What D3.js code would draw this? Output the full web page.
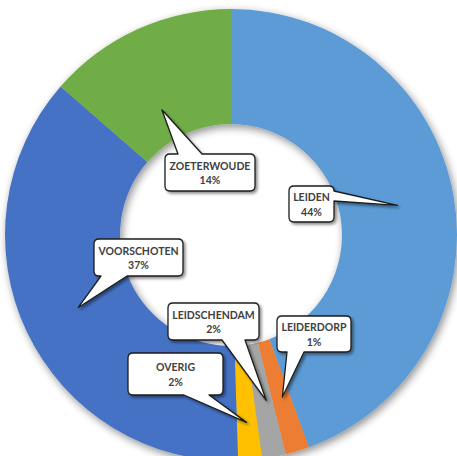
<!DOCTYPE html>
<html>
<head>
<meta charset="utf-8">
<script src="https://cdn.jsdelivr.net/npm/d3@7"></script>
<style>
  html, body { margin: 0; padding: 0; background: #ffffff; }
  svg { display: block; }
</style>
</head>
<body>
<div id="chart"></div>
<script>
// ---- data ----
const categories = ["LEIDEN", "LEIDERDORP", "LEIDSCHENDAM", "OVERIG", "VOORSCHOTEN", "ZOETERWOUDE"];
const values = [44.4, 1.7, 1.7, 1.7, 36.9, 13.6];
const pctLabels = ["44%", "1%", "2%", "2%", "37%", "14%"];
const colors = ["#5B9BD5", "#ED7D31", "#A5A5A5", "#FFC000", "#4472C4", "#70AD47"];

// ---- layout ----
const W = 457, H = 456;
const cx = 231, cy = 235, outerR = 226, innerR = 111;

// callout boxes: [x, y, w, h], side of pointer, base span, tip (fraction along slice, radius)
const callouts = [
  { box: [289, 186, 45, 36], side: "right",  base: [191, 201], frac: 0.50, r: 169 },
  { box: [277, 316, 74, 36], side: "bottom", base: [287, 304], frac: 0.42, r: 170 },
  { box: [168, 303, 91, 37], side: "bottom", base: [222, 245], frac: 0.33, r: 169 },
  { box: [128, 353, 95, 42], side: "bottom", base: [184, 209], frac: 0.52, r: 188 },
  { box: [94, 239, 89, 37],  side: "bottom", base: [101, 127], frac: 0.50, r: 169 },
  { box: [165, 154, 90, 37], side: "top",    base: [178, 202], frac: 0.41, r: 143 }
];

const svg = d3.select("#chart").append("svg")
  .attr("width", W).attr("height", H);

svg.append("rect").attr("width", W).attr("height", H).attr("fill", "#ffffff");

const defs = svg.append("defs");
function shadow(id, dx, dy, std, op) {
  const f = defs.append("filter").attr("id", id)
    .attr("x", "-20%").attr("y", "-20%").attr("width", "140%").attr("height", "140%");
  f.append("feGaussianBlur").attr("in", "SourceAlpha").attr("stdDeviation", std).attr("result", "b");
  f.append("feOffset").attr("in", "b").attr("dx", dx).attr("dy", dy).attr("result", "o");
  f.append("feComponentTransfer").attr("in", "o").attr("result", "s")
    .append("feFuncA").attr("type", "linear").attr("slope", op);
  const m = f.append("feMerge");
  m.append("feMergeNode").attr("in", "s");
  m.append("feMergeNode").attr("in", "SourceGraphic");
}
shadow("donutShadow", 2, 3, 4, 0.45);
shadow("boxShadow", 1.5, 2, 1.5, 0.45);

const pie = d3.pie().sort(null).value(d => d).startAngle(0).endAngle(2 * Math.PI);
const arcs = pie(values);
const arc = d3.arc().innerRadius(innerR).outerRadius(outerR);

const g = svg.append("g").attr("transform", `translate(${cx},${cy})`);
const donut = g.append("g").attr("filter", "url(#donutShadow)");
donut.selectAll("path.slice").data(arcs).enter().append("path")
  .attr("class", "slice")
  .attr("d", arc)
  .attr("fill", (d, i) => colors[i]);

function calloutPath(x, y, w, h, r, side, b1, b2, tx, ty) {
  let p = `M${x + r},${y}`;
  if (side === "top") p += `L${b1},${y}L${tx},${ty}L${b2},${y}`;
  p += `L${x + w - r},${y}Q${x + w},${y} ${x + w},${y + r}`;
  if (side === "right") p += `L${x + w},${b1}L${tx},${ty}L${x + w},${b2}`;
  p += `L${x + w},${y + h - r}Q${x + w},${y + h} ${x + w - r},${y + h}`;
  if (side === "bottom") p += `L${b2},${y + h}L${tx},${ty}L${b1},${y + h}`;
  p += `L${x + r},${y + h}Q${x},${y + h} ${x},${y + h - r}`;
  if (side === "left") p += `L${x},${b2}L${tx},${ty}L${x},${b1}`;
  p += `L${x},${y + r}Q${x},${y} ${x + r},${y}Z`;
  return p;
}

const labels = svg.append("g");
arcs.forEach((a, i) => {
  const c = callouts[i];
  const ang = a.startAngle + (a.endAngle - a.startAngle) * c.frac;
  const tx = cx + c.r * Math.sin(ang);
  const ty = cy - c.r * Math.cos(ang);
  const [x, y, w, h] = c.box;
  const lg = labels.append("g");
  lg.append("path")
    .attr("d", calloutPath(x, y, w, h, 5, c.side, c.base[0], c.base[1], tx, ty))
    .attr("fill", "#ffffff")
    .attr("stroke", "#1e1e1e")
    .attr("stroke-width", 1.3)
    .attr("stroke-linejoin", "round")
    .attr("filter", "url(#boxShadow)");
  const midX = x + w / 2, midY = y + h / 2;
  lg.append("text")
    .attr("x", midX).attr("y", midY - 3)
    .attr("text-anchor", "middle")
    .attr("font-family", "Lato, 'Open Sans', sans-serif")
    .attr("font-weight", "bold")
    .attr("font-size", 10.5)
    .attr("fill", "#404040")
    .text(categories[i]);
  lg.append("text")
    .attr("x", midX).attr("y", midY + 11.5)
    .attr("text-anchor", "middle")
    .attr("font-family", "Lato, 'Open Sans', sans-serif")
    .attr("font-weight", "bold")
    .attr("font-size", 10.5)
    .attr("fill", "#404040")
    .text(pctLabels[i]);
});
</script>
</body>
</html>
